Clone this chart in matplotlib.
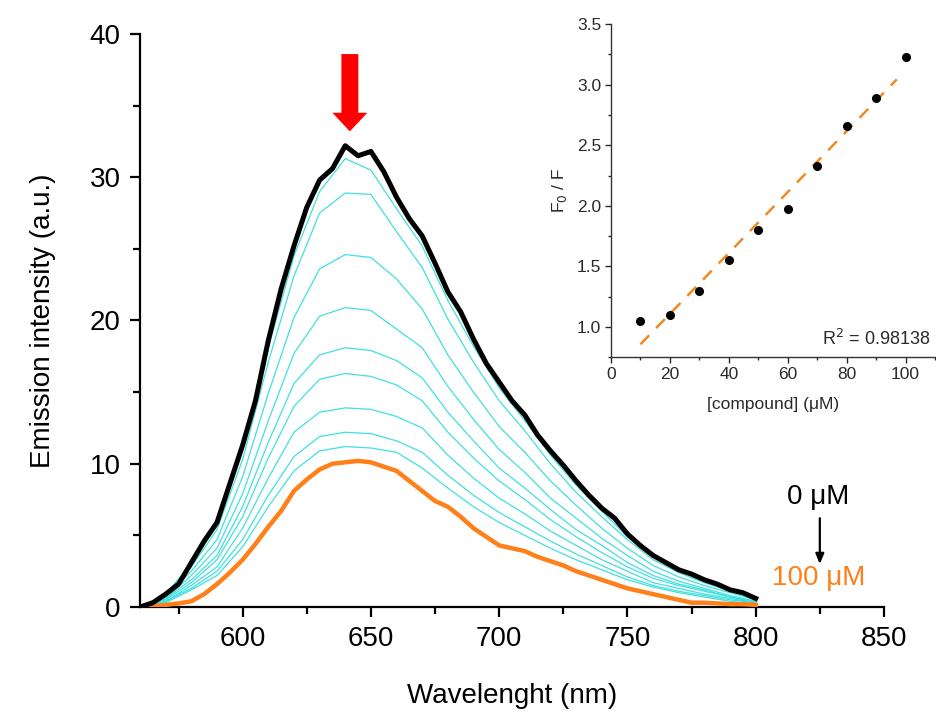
import numpy as np
import matplotlib
matplotlib.use("Agg")
import matplotlib.pyplot as plt
from matplotlib.patches import FancyArrow
from matplotlib.ticker import MultipleLocator

plt.rcParams['font.family'] = ['Liberation Sans', 'DejaVu Sans']

# ---- emission spectra -------------------------------------------------
wavelength_fine = list(range(560, 801, 5))      # nm, for the 0 and 100 uM spectra
wavelength_coarse = list(range(560, 801, 10))   # nm, for the intermediate titration steps

emission_0uM = [0.0, 0.3, 0.9, 1.6, 3.1, 4.6, 5.9, 8.6, 11.3, 14.4,
                18.6, 22.2, 25.2, 27.9, 29.8, 30.6, 32.2, 31.5, 31.8, 30.4,
                28.6, 27.1, 25.9, 24.0, 22.0, 20.6, 18.7, 17.0, 15.7, 14.4,
                13.4, 12.0, 10.9, 9.9, 8.8, 7.8, 6.9, 6.2, 5.1, 4.3,
                3.6, 3.1, 2.6, 2.3, 1.9, 1.6, 1.2, 1.0, 0.6]

emission_100uM = [0.0, 0.05, 0.15, 0.25, 0.4, 0.9, 1.6, 2.4, 3.3, 4.4,
                  5.6, 6.7, 8.1, 8.9, 9.6, 10.0, 10.1, 10.2, 10.1, 9.8,
                  9.5, 8.8, 8.1, 7.4, 7.0, 6.3, 5.5, 4.9, 4.3, 4.1,
                  3.9, 3.5, 3.2, 2.9, 2.5, 2.2, 1.9, 1.6, 1.3, 1.1,
                  0.9, 0.7, 0.5, 0.3, 0.3, 0.25, 0.2, 0.2, 0.15]

emission_10uM = [0, 0.9, 3.0, 5.7, 11.0, 18.1, 24.5, 29.0, 31.3, 30.5, 27.8, 25.2, 21.4,
                 18.2, 15.3, 13.0, 10.6, 8.5, 6.7, 4.9, 3.5, 2.5, 1.8, 1.2, 0.6]
emission_20uM = [0, 0.8, 2.8, 5.4, 10.3, 17.1, 23.1, 27.5, 28.9, 28.8, 26.2, 23.7, 20.1,
                 17.1, 14.4, 12.3, 10.0, 8.0, 6.3, 4.7, 3.3, 2.4, 1.7, 1.1, 0.5]
emission_30uM = [0, 0.7, 2.5, 4.7, 9.1, 14.9, 20.2, 23.6, 24.6, 24.4, 22.9, 20.8, 17.6,
                 15.0, 12.6, 10.8, 8.8, 7.1, 5.5, 4.1, 2.9, 2.1, 1.5, 1.0, 0.5]
emission_40uM = [0, 0.6, 2.2, 4.1, 7.9, 13.0, 17.7, 20.3, 20.9, 20.7, 19.4, 18.1, 15.4,
                 13.1, 11.0, 9.4, 7.6, 6.2, 4.8, 3.6, 2.5, 1.8, 1.3, 0.8, 0.4]
emission_50uM = [0, 0.6, 1.9, 3.6, 7.0, 11.5, 15.6, 17.6, 18.1, 17.9, 17.2, 16.0, 13.6,
                 11.6, 9.7, 8.3, 6.8, 5.4, 4.3, 3.1, 2.2, 1.6, 1.2, 0.7, 0.4]
emission_60uM = [0, 0.5, 1.7, 3.3, 6.3, 10.4, 14.0, 15.9, 16.3, 16.1, 15.5, 14.4, 12.2,
                 10.4, 8.8, 7.5, 6.1, 4.9, 3.8, 2.8, 2.0, 1.5, 1.1, 0.7, 0.3]
emission_70uM = [0, 0.4, 1.5, 2.8, 5.5, 9.0, 12.2, 13.6, 13.9, 13.8, 13.3, 12.5, 10.6,
                 9.0, 7.6, 6.5, 5.3, 4.3, 3.3, 2.5, 1.7, 1.3, 0.9, 0.6, 0.3]
emission_80uM = [0, 0.4, 1.3, 2.5, 4.7, 7.8, 10.5, 11.9, 12.2, 12.1, 11.6, 10.8, 9.2,
                 7.8, 6.6, 5.6, 4.6, 3.7, 2.9, 2.1, 1.5, 1.1, 0.8, 0.5, 0.3]
emission_90uM = [0, 0.3, 1.2, 2.2, 4.2, 7.0, 9.5, 10.9, 11.2, 11.1, 10.8, 9.7, 8.3,
                 7.0, 5.9, 5.0, 4.1, 3.3, 2.6, 1.9, 1.4, 1.0, 0.7, 0.4, 0.2]

intermediate_spectra = [emission_10uM, emission_20uM, emission_30uM, emission_40uM,
                        emission_50uM, emission_60uM, emission_70uM, emission_80uM,
                        emission_90uM]

# ---- Stern-Volmer data -------------------------------------------------
concentration = [10, 20, 30, 40, 50, 60, 70, 80, 90, 100]          # uM
f0_over_f = [1.05, 1.10, 1.30, 1.55, 1.80, 1.97, 2.33, 2.66, 2.89, 3.23]
r_squared_text = "R$^2$ = 0.98138"

x_ticks = [600, 650, 700, 750, 800, 850]
y_ticks = [0, 10, 20, 30, 40]

CYAN = '#40e0e0'
ORANGE = '#ff8019'
INK = '#2a2a2a'

fig = plt.figure(figsize=(9.36, 7.17), dpi=100)
ax = fig.add_axes([0.1496, 0.1534, 0.7948, 0.7992])

for spec in intermediate_spectra:
    ax.plot(wavelength_coarse, spec, color=CYAN, lw=0.9, zorder=2)
ax.plot(wavelength_fine, emission_100uM, color=ORANGE, lw=3.2, zorder=3,
        solid_joinstyle='round')
ax.plot(wavelength_fine, emission_0uM, color='black', lw=3.6, zorder=4,
        solid_joinstyle='round')

ax.set_xlim(560, 850)
ax.set_ylim(0, 40)
ax.set_xticks(x_ticks)
ax.set_yticks(y_ticks)
ax.xaxis.set_minor_locator(MultipleLocator(25))
ax.yaxis.set_minor_locator(MultipleLocator(5))
for side in ('top', 'right'):
    ax.spines[side].set_visible(False)
for side in ('left', 'bottom'):
    ax.spines[side].set_linewidth(1.6)
ax.tick_params(which='major', direction='out', length=7, width=1.6,
               labelsize=20, pad=7)
ax.tick_params(which='minor', direction='out', length=5, width=1.6)
ax.set_xlabel('Wavelenght (nm)', fontsize=20, labelpad=22)
ax.set_ylabel('Emission intensity (a.u.)', fontsize=20, labelpad=24)

# red arrow marking the emission maximum
ax.add_patch(FancyArrow(641.8, 38.6, 0, -5.4, width=6.6, head_width=13.6,
                        head_length=1.3, length_includes_head=True,
                        color='#ff0000', lw=0, zorder=5))

# concentration direction marker
ax.text(824.5, 7.7, '0 μM', fontsize=20, color='black', ha='center', va='center')
ax.text(824.5, 2.0, '100 μM', fontsize=20, color=ORANGE, ha='center', va='center')
ax.annotate('', xy=(825, 3.0), xytext=(825, 6.2),
            arrowprops=dict(arrowstyle='-|>,head_width=0.25,head_length=0.6',
                            color='black', lw=1.6, shrinkA=0, shrinkB=0))

# ---- inset: Stern-Volmer plot ------------------------------------------
ins = fig.add_axes([0.6528, 0.5017, 0.3462, 0.4648])
slope, intercept = np.polyfit(concentration, f0_over_f, 1)
fit_x = np.array([concentration[0], 97])
ins.plot(fit_x, slope * fit_x + intercept, color='#f08a24', lw=1.8,
         dashes=(5, 4), zorder=2)
ins.plot(concentration, f0_over_f, 'o', color='black', ms=5.5, zorder=3)
ins.set_xlim(0, 110)
ins.set_ylim(0.75, 3.5)
ins.set_xticks([0, 20, 40, 60, 80, 100])
ins.set_yticks([1.0, 1.5, 2.0, 2.5, 3.0, 3.5])
ins.xaxis.set_minor_locator(MultipleLocator(10))
ins.yaxis.set_minor_locator(MultipleLocator(0.25))
ins.set_facecolor('none')
for side in ('top', 'right'):
    ins.spines[side].set_visible(False)
for side in ('left', 'bottom'):
    ins.spines[side].set_linewidth(1.0)
    ins.spines[side].set_color('#333333')
ins.tick_params(which='major', direction='out', length=4, width=1.0,
                labelsize=12.5, pad=3, colors=INK)
ins.tick_params(which='minor', direction='out', length=2.5, width=1.0,
                colors=INK)
ins.set_xlabel('[compound] (μM)', fontsize=12.5, labelpad=11, color=INK)
ins.set_ylabel('F$_0$ / F', fontsize=12.5, labelpad=6, color=INK)
ins.text(0.985, 0.025, r_squared_text, transform=ins.transAxes, fontsize=13,
         ha='right', va='bottom', color=INK)

fig.savefig('out.png', dpi=100)
